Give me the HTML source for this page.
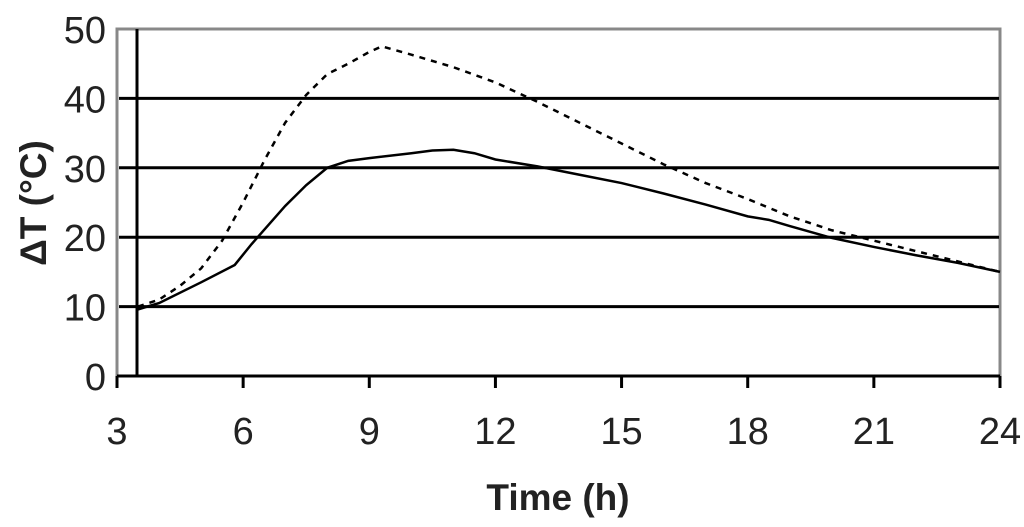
<!DOCTYPE html>
<html><head><meta charset="utf-8"><style>
body{margin:0;background:#fff;width:1024px;height:522px;overflow:hidden}
svg text{font-family:"Liberation Sans",sans-serif}
</style></head><body>
<svg id="chart" width="1024" height="522" viewBox="0 0 1024 522"></svg>
<script>
const xTicks=[3,6,9,12,15,18,21,24];
const yTicks=[0,10,20,30,40,50];
const solidX=[3.5,4,5,5.8,6.2,7,7.5,8,8.5,9,10,10.5,11,11.5,12,13,14,15,16,17,18,18.5,19,20,21,22,23,24];
const solidY=[9.6,10.5,13.5,16,19,24.5,27.5,30,31,31.4,32.1,32.5,32.6,32.1,31.2,30.2,29,27.8,26.3,24.7,23,22.5,21.6,19.9,18.6,17.4,16.3,15];
const dashX=[3.5,4,4.5,5,5.5,6,6.5,7,7.5,8,8.5,9,9.3,10,11,12,13,14,15,16,17,18,19,20,21,22,23,24];
const dashY=[10,11,13,15.5,19.5,25,31,36.5,40.5,43.5,45,46.7,47.5,46.3,44.5,42.3,39.5,36.5,33.5,30.5,27.8,25.5,23,21,19.5,18,16.5,15];
const X0=117,X1=1000,Y0=376,Y1=29;
const sx=v=>X0+(v-3)/(24-3)*(X1-X0);
const sy=v=>Y0-v/50*(Y0-Y1);
const svg=document.getElementById('chart');
const NS='http://www.w3.org/2000/svg';
function mk(t,a){const e=document.createElementNS(NS,t);for(const k in a)e.setAttribute(k,a[k]);svg.appendChild(e);return e;}
let e=mk('polyline',{points:`${X0},${Y0} ${X0},${Y1} ${X1},${Y1} ${X1},${Y0}`,fill:'none',stroke:'#888',"stroke-width":3});


yTicks.forEach(v=>{
 if(v>0&&v<50){const g=mk('line',{x1:119,x2:X1-1,y1:sy(v),y2:sy(v),stroke:'#000',"stroke-width":3});
 
 }
 const t=mk('text',{x:106,y:sy(v)+14,"text-anchor":"end","font-size":38,fill:'#222'});t.textContent=v;
 
 
});
e=mk('line',{x1:137,x2:137,y1:Y1,y2:Y0,stroke:'#000',"stroke-width":3});


e=mk('line',{x1:X0,x2:X1,y1:Y0,y2:Y0,stroke:'#000',"stroke-width":3});


xTicks.forEach(v=>{
 const k=mk('line',{x1:sx(v),x2:sx(v),y1:Y0,y2:388,stroke:'#000',"stroke-width":3});
 
 
 const t=mk('text',{x:sx(v),y:444,"text-anchor":"middle","font-size":38,fill:'#222'});t.textContent=v;
 
 
});
const pts=(xs,ys)=>xs.map((x,i)=>sx(x)+','+sy(ys[i])).join(' ');
e=mk('polyline',{points:pts(dashX,dashY),fill:'none',stroke:'#000',"stroke-width":2.5,"stroke-dasharray":"6,6"});


e=mk('polyline',{points:pts(solidX,solidY),fill:'none',stroke:'#000',"stroke-width":2.5});


e=mk('text',{x:558,y:510,"text-anchor":"middle","font-size":37,"font-weight":"bold",fill:'#222'});e.textContent='Time (h)';


e=mk('text',{x:0,y:0,"text-anchor":"middle","font-size":37,"font-weight":"bold",fill:'#222',transform:'translate(46,203) rotate(-90)'});e.textContent='ΔT (°C)';


</script>
</body></html>
